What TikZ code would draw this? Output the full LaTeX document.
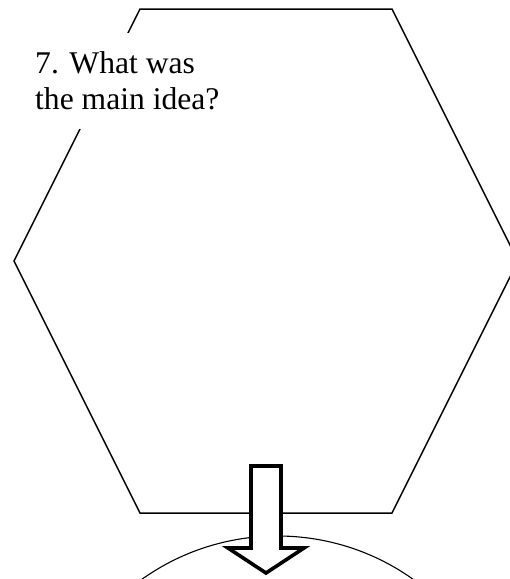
\documentclass[tikz,border=0pt]{standalone}
\usepackage{fontspec}
\setmainfont{Liberation Serif}
\begin{document}
\begin{tikzpicture}[x=1pt,y=-1pt,
  hexline/.style={line width=1.5pt, line join=miter},
  circline/.style={line width=1.1pt},
  bigarrow/.style={line width=3.6pt, fill=white, line join=miter},
  qtext/.style={fill=white, inner xsep=4pt, inner ysep=0pt, minimum height=96pt, align=left, anchor=north west, font=\fontsize{31.6}{36}\selectfont}]
\useasboundingbox (0,0) rectangle (510,579);
\clip (0,0) rectangle (510,579);
% hexagon
\coordinate (h1) at (140,9);
\coordinate (h2) at (392,9);
\coordinate (h3) at (518,261);
\coordinate (h4) at (392,513);
\coordinate (h5) at (140,513);
\coordinate (h6) at (14,261);
\draw[hexline] (h1) -- (h2) -- (h3) -- (h4) -- (h5) -- (h6) -- cycle;
% circle
\coordinate (cc) at (277.5,770);
\draw[circline] (cc) circle[radius=234];
% question text
\node[qtext] (q) at (31,33) {7. What was\\the main idea?};
% arrow
\draw[bigarrow] (251,466) coordinate (a1) -- (281,466) -- (281,548) -- (304,548) -- (266,573) coordinate (tip) -- (228,548) -- (251,548) -- cycle;
\end{tikzpicture}
\end{document}
